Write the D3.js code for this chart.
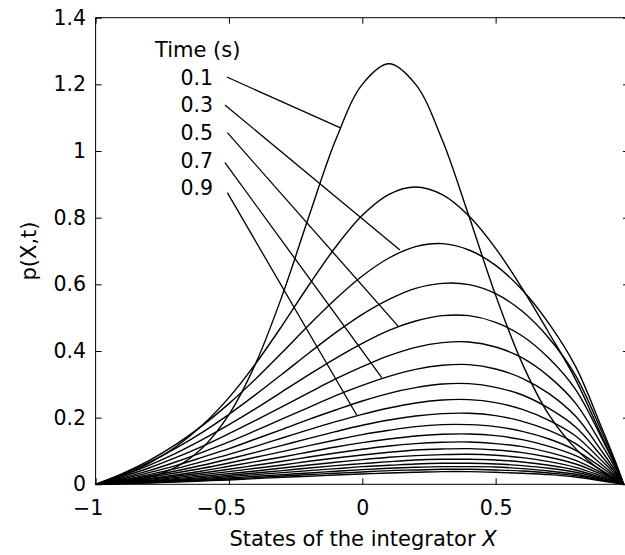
<body style="margin:0;background:#fff">
<script src="https://d3js.org/d3.v7.min.js" charset="utf-8"></script>
<script>
// x grid where each density curve is sampled
var xGrid = [-1, -0.9, -0.8, -0.7, -0.6, -0.5, -0.4, -0.3, -0.2, -0.1, 0,
             0.1, 0.2, 0.3, 0.4, 0.5, 0.6, 0.7, 0.8, 0.9, 0.95, 0.98];

var times = [0.1, 0.2, 0.3, 0.4, 0.5, 0.6, 0.7, 0.8, 0.9, 1.0,
             1.1, 1.2, 1.3, 1.4, 1.5, 1.6, 1.7, 1.8, 1.9, 2.0];

// p(X,t), one row per time
var p01 = [0, 0.007, 0.022, 0.051, 0.109, 0.209, 0.362, 0.567, 0.804, 1.033, 1.200, 1.262, 1.200, 1.033, 0.804, 0.567, 0.362, 0.208, 0.107, 0.038, 0.014, 0];
var p02 = [0, 0.027, 0.063, 0.112, 0.177, 0.260, 0.362, 0.477, 0.598, 0.712, 0.807, 0.870, 0.892, 0.869, 0.805, 0.708, 0.587, 0.454, 0.314, 0.141, 0.056, 0];
var p03 = [0, 0.032, 0.071, 0.119, 0.176, 0.242, 0.316, 0.396, 0.478, 0.556, 0.625, 0.679, 0.713, 0.722, 0.703, 0.657, 0.583, 0.482, 0.353, 0.165, 0.066, 0];
var p04 = [0, 0.030, 0.066, 0.108, 0.156, 0.210, 0.269, 0.331, 0.394, 0.455, 0.510, 0.555, 0.588, 0.603, 0.599, 0.572, 0.519, 0.438, 0.326, 0.154, 0.062, 0];
var p05 = [0, 0.026, 0.057, 0.093, 0.134, 0.179, 0.227, 0.278, 0.329, 0.378, 0.423, 0.462, 0.490, 0.506, 0.506, 0.486, 0.445, 0.378, 0.284, 0.135, 0.054, 0];
var p06 = [0, 0.023, 0.049, 0.080, 0.114, 0.152, 0.192, 0.233, 0.275, 0.316, 0.353, 0.386, 0.411, 0.425, 0.427, 0.412, 0.379, 0.323, 0.243, 0.116, 0.047, 0];
var p07 = [0, 0.019, 0.041, 0.067, 0.096, 0.127, 0.161, 0.196, 0.231, 0.266, 0.297, 0.324, 0.345, 0.357, 0.359, 0.346, 0.318, 0.272, 0.204, 0.097, 0.039, 0];
var p08 = [0, 0.016, 0.035, 0.056, 0.081, 0.107, 0.136, 0.165, 0.195, 0.223, 0.250, 0.273, 0.290, 0.301, 0.302, 0.291, 0.268, 0.228, 0.172, 0.082, 0.033, 0];
var p09 = [0, 0.013, 0.029, 0.047, 0.068, 0.090, 0.114, 0.139, 0.164, 0.188, 0.210, 0.229, 0.244, 0.253, 0.254, 0.245, 0.225, 0.192, 0.145, 0.069, 0.028, 0];
var p10 = [0, 0.011, 0.025, 0.040, 0.057, 0.076, 0.096, 0.117, 0.138, 0.158, 0.177, 0.193, 0.205, 0.212, 0.213, 0.206, 0.189, 0.162, 0.122, 0.058, 0.023, 0];
var p11 = [0, 0.009, 0.021, 0.034, 0.048, 0.064, 0.081, 0.098, 0.116, 0.133, 0.149, 0.162, 0.173, 0.179, 0.179, 0.173, 0.159, 0.136, 0.102, 0.049, 0.020, 0];
var p12 = [0, 0.008, 0.017, 0.028, 0.040, 0.054, 0.068, 0.082, 0.097, 0.112, 0.125, 0.136, 0.145, 0.150, 0.151, 0.146, 0.134, 0.114, 0.086, 0.041, 0.017, 0];
var p13 = [0, 0.007, 0.015, 0.024, 0.034, 0.045, 0.057, 0.069, 0.082, 0.094, 0.105, 0.115, 0.122, 0.126, 0.127, 0.122, 0.113, 0.096, 0.072, 0.034, 0.014, 0];
var p14 = [0, 0.006, 0.012, 0.020, 0.029, 0.038, 0.048, 0.058, 0.069, 0.079, 0.088, 0.096, 0.103, 0.106, 0.107, 0.103, 0.095, 0.081, 0.061, 0.029, 0.012, 0];
var p15 = [0, 0.005, 0.010, 0.017, 0.024, 0.032, 0.040, 0.049, 0.058, 0.066, 0.074, 0.081, 0.086, 0.089, 0.090, 0.087, 0.080, 0.068, 0.051, 0.024, 0.010, 0];
var p16 = [0, 0.004, 0.009, 0.014, 0.020, 0.027, 0.034, 0.041, 0.049, 0.056, 0.062, 0.068, 0.073, 0.075, 0.075, 0.073, 0.067, 0.057, 0.043, 0.020, 0.008, 0];
var p17 = [0, 0.003, 0.007, 0.012, 0.017, 0.023, 0.029, 0.035, 0.041, 0.047, 0.053, 0.057, 0.061, 0.063, 0.063, 0.061, 0.056, 0.048, 0.036, 0.017, 0.007, 0];
var p18 = [0, 0.003, 0.006, 0.010, 0.014, 0.019, 0.024, 0.029, 0.034, 0.039, 0.044, 0.048, 0.051, 0.053, 0.053, 0.052, 0.047, 0.040, 0.030, 0.014, 0.006, 0];
var p19 = [0, 0.002, 0.005, 0.008, 0.012, 0.016, 0.020, 0.025, 0.029, 0.033, 0.037, 0.041, 0.043, 0.045, 0.045, 0.043, 0.040, 0.034, 0.026, 0.012, 0.005, 0];
var p20 = [0, 0.002, 0.004, 0.007, 0.010, 0.013, 0.017, 0.021, 0.024, 0.028, 0.031, 0.034, 0.036, 0.038, 0.038, 0.036, 0.033, 0.029, 0.022, 0.010, 0.004, 0];
var densities = [p01, p02, p03, p04, p05, p06, p07, p08, p09, p10,
                 p11, p12, p13, p14, p15, p16, p17, p18, p19, p20];

var xTicks = [-1, -0.5, 0, 0.5];
var yTicks = [0, 0.2, 0.4, 0.6, 0.8, 1, 1.2, 1.4];

// "Time (s)" annotation: labels and where each pointer line meets its curve
var labelTimes = ["0.1", "0.3", "0.5", "0.7", "0.9"];
var pointerFrom = [[-0.508, 1.222], [-0.515, 1.138], [-0.506, 1.055], [-0.515, 0.965], [-0.506, 0.875]];
var pointerTo = [[-0.084, 1.07], [0.141, 0.703], [0.135, 0.474], [0.073, 0.32], [-0.021, 0.208]];

var width = 625, height = 555;
var plotL = 95.6, plotR = 629, plotT = 17.7, plotB = 484.3;
var font = "DejaVu Sans, sans-serif";

var svg = d3.select("body").append("svg").attr("width", width).attr("height", height)
  .style("display", "block");

var x = d3.scaleLinear().domain([-1, 1]).range([plotL, plotR]);
var y = d3.scaleLinear().domain([0, 1.4]).range([plotB, plotT]);

// frame
svg.append("rect")
  .attr("x", plotL).attr("y", plotT)
  .attr("width", plotR - plotL).attr("height", plotB - plotT)
  .attr("fill", "none").attr("stroke", "#000").attr("stroke-width", 1);

function fmt(d) { return d < 0 ? "\u2212" + Math.abs(d) : String(d); }

var xAxis = svg.append("g").attr("transform", "translate(0," + plotB + ")")
  .call(d3.axisBottom(x).tickValues(xTicks).tickSize(-6).tickPadding(16.5).tickFormat(fmt));
var yAxis = svg.append("g").attr("transform", "translate(" + plotL + ",0)")
  .call(d3.axisLeft(y).tickValues(yTicks).tickSize(-6).tickPadding(9.5).tickFormat(fmt));
svg.append("g").attr("transform", "translate(0," + plotT + ")")
  .call(d3.axisTop(x).tickValues(xTicks).tickSize(-6).tickFormat(""));
svg.append("g").attr("transform", "translate(" + plotR + ",0)")
  .call(d3.axisRight(y).tickValues(yTicks).tickSize(-6).tickFormat(""));

svg.selectAll(".domain").remove();
svg.selectAll(".tick line").attr("stroke", "#000");
svg.selectAll(".tick text").attr("fill", "#000")
  .style("font-family", font).style("font-size", "20.5px");
xAxis.selectAll(".tick text").attr("dx", function (d) { return d < 0 ? -8 : 0; });

// density curves
var line = d3.line()
  .x(function (d, i) { return x(xGrid[i]); })
  .y(function (d) { return y(d); })
  .curve(d3.curveCatmullRom.alpha(0.5));

svg.append("g").selectAll("path")
  .data(densities)
  .enter()
  .append("path")
  .attr("d", line)
  .attr("fill", "none")
  .attr("stroke", "#000")
  .attr("stroke-width", 1.4);

// annotation
svg.append("text")
  .attr("x", 155).attr("y", 56.7)
  .style("font-family", font).style("font-size", "21px")
  .text("Time (s)");

svg.append("g").selectAll("text")
  .data(labelTimes)
  .enter()
  .append("text")
  .attr("x", 180.5)
  .attr("y", function (d, i) { return 84.5 + i * 27.7; })
  .style("font-family", font).style("font-size", "20.5px")
  .text(function (d) { return d; });

svg.append("g").selectAll("line")
  .data(pointerFrom)
  .enter()
  .append("line")
  .attr("x1", function (d) { return x(d[0]); })
  .attr("y1", function (d) { return y(d[1]); })
  .attr("x2", function (d, i) { return x(pointerTo[i][0]); })
  .attr("y2", function (d, i) { return y(pointerTo[i][1]); })
  .attr("stroke", "#000")
  .attr("stroke-width", 1.3);

// axis titles
var xl = svg.append("text")
  .attr("x", 363).attr("y", 546)
  .attr("text-anchor", "middle")
  .style("font-family", font).style("font-size", "21px");
xl.append("tspan").text("States of the integrator ");
xl.append("tspan").style("font-style", "italic").text("X");

svg.append("text")
  .attr("transform", "translate(35.5,251) rotate(-90)")
  .attr("text-anchor", "middle")
  .style("font-family", font).style("font-size", "21px")
  .text("p(X,t)");
</script>
</body>
